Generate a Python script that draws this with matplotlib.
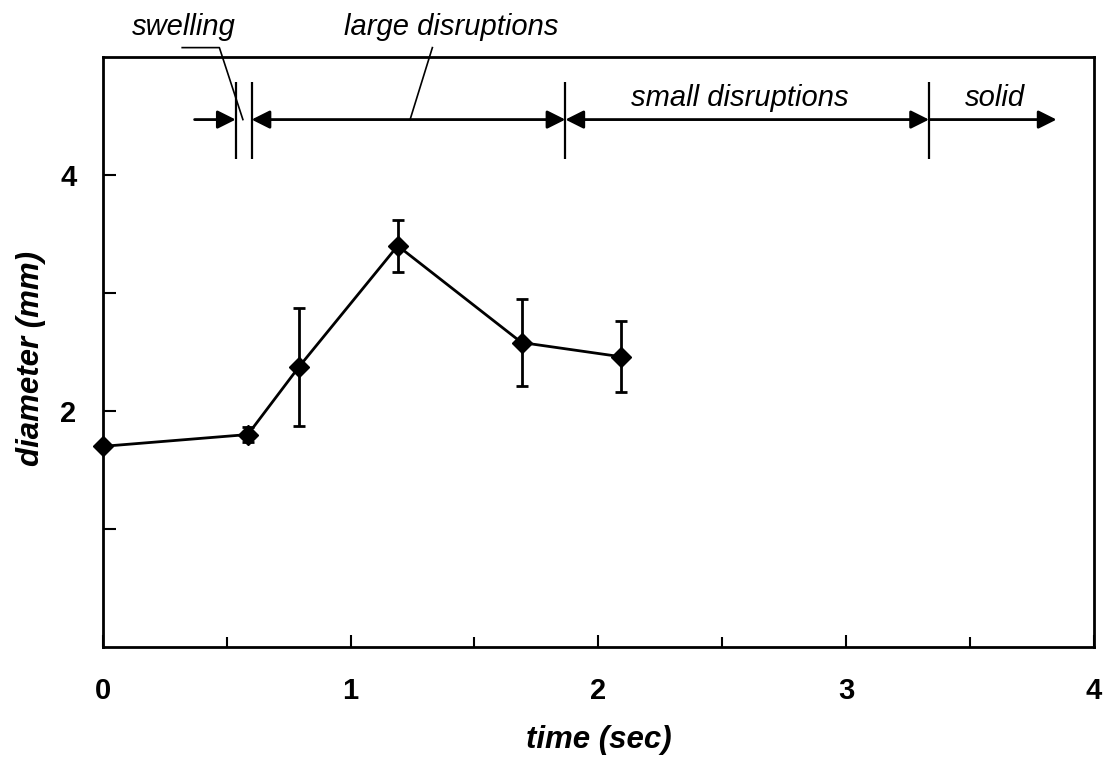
import matplotlib
matplotlib.use('Agg')
import matplotlib.pyplot as plt

# measured drop diameter over time, with spread
time_s = [0.0, 0.585, 0.79, 1.19, 1.69, 2.09]
diameter_mm = [1.70, 1.80, 2.37, 3.40, 2.58, 2.46]
diameter_err = [0.0, 0.06, 0.50, 0.22, 0.365, 0.30]

# regime boundaries along the time axis
stage_edges = [0.536, 0.60, 1.867, 3.335]
arrow_start = 0.37
arrow_end = 3.85

stage_names = ["swelling", "large disruptions", "small disruptions", "solid"]
stage_label_x = [0.325, 1.407, 2.573, 3.60]
stage_label_y = [5.19, 5.19, 4.585, 4.585]

x_labels = ["0", "1", "2", "3", "4"]
y_labels = ["2", "4"]

plt.rcParams['font.family'] = ['Liberation Sans', 'DejaVu Sans']

fig = plt.figure(figsize=(11.07, 7.71), dpi=100)
ax = fig.add_axes([0.093, 0.161, 0.895, 0.765])

ax.errorbar(time_s, diameter_mm, yerr=diameter_err, color='black', lw=2,
            marker='D', markersize=10, capsize=4.5, capthick=2, elinewidth=2,
            clip_on=False, zorder=3)

ax.set_xlim(0, 4)
ax.set_ylim(0, 5)
ax.set_xticks([0, 1, 2, 3, 4])
ax.set_xticklabels(x_labels)
ax.set_xticks([0.5, 1.5, 2.5, 3.5], minor=True)
ax.set_yticks([1, 2, 3, 4])
ax.set_yticklabels(["", y_labels[0], "", y_labels[1]])
ax.tick_params(which='major', direction='in', length=9, width=1.5,
               labelsize=21, pad=22)
ax.tick_params(which='minor', direction='in', length=7, width=1.5)
ax.tick_params(axis='y', pad=19)
for lbl in ax.get_xticklabels() + ax.get_yticklabels():
    lbl.set_fontweight('bold')
for sp in ax.spines.values():
    sp.set_linewidth(2)

ax.set_xlabel("time (sec)", fontsize=22.5, fontweight='bold', style='italic',
              labelpad=14)
ax.set_ylabel("diameter (mm)", fontsize=22.5, fontweight='bold', style='italic',
              labelpad=10)
ax.yaxis.label.set_y(0.489)

# stage markers and arrows
arrow_y = 4.47
ax.vlines(stage_edges, 4.14, 4.79, color='black', lw=1.6)
head = dict(color='black', lw=2, shrinkA=0, shrinkB=0, mutation_scale=22)
ax.annotate("", xy=(stage_edges[0], arrow_y), xytext=(arrow_start, arrow_y),
            arrowprops=dict(arrowstyle='-|>,head_length=0.5,head_width=0.25', **head))
ax.annotate("", xy=(stage_edges[2], arrow_y), xytext=(stage_edges[1], arrow_y),
            arrowprops=dict(arrowstyle='<|-|>,head_length=0.5,head_width=0.25', **head))
ax.annotate("", xy=(stage_edges[3], arrow_y), xytext=(stage_edges[2], arrow_y),
            arrowprops=dict(arrowstyle='<|-|>,head_length=0.5,head_width=0.25', **head))
ax.annotate("", xy=(arrow_end, arrow_y), xytext=(stage_edges[3], arrow_y),
            arrowprops=dict(arrowstyle='-|>,head_length=0.5,head_width=0.25', **head))

for name, lx, ly in zip(stage_names, stage_label_x, stage_label_y):
    ax.text(lx, ly, name, fontsize=21, style='italic', ha='center',
            va='baseline', clip_on=False)

# leader lines from the upper labels down to their arrows
ax.plot([0.32, 0.47, 0.565], [5.08, 5.08, arrow_y], color='black', lw=1.2,
        clip_on=False)
ax.plot([1.33, 1.24], [5.08, arrow_y], color='black', lw=1.2, clip_on=False)

fig.savefig("out.png", dpi=100)
